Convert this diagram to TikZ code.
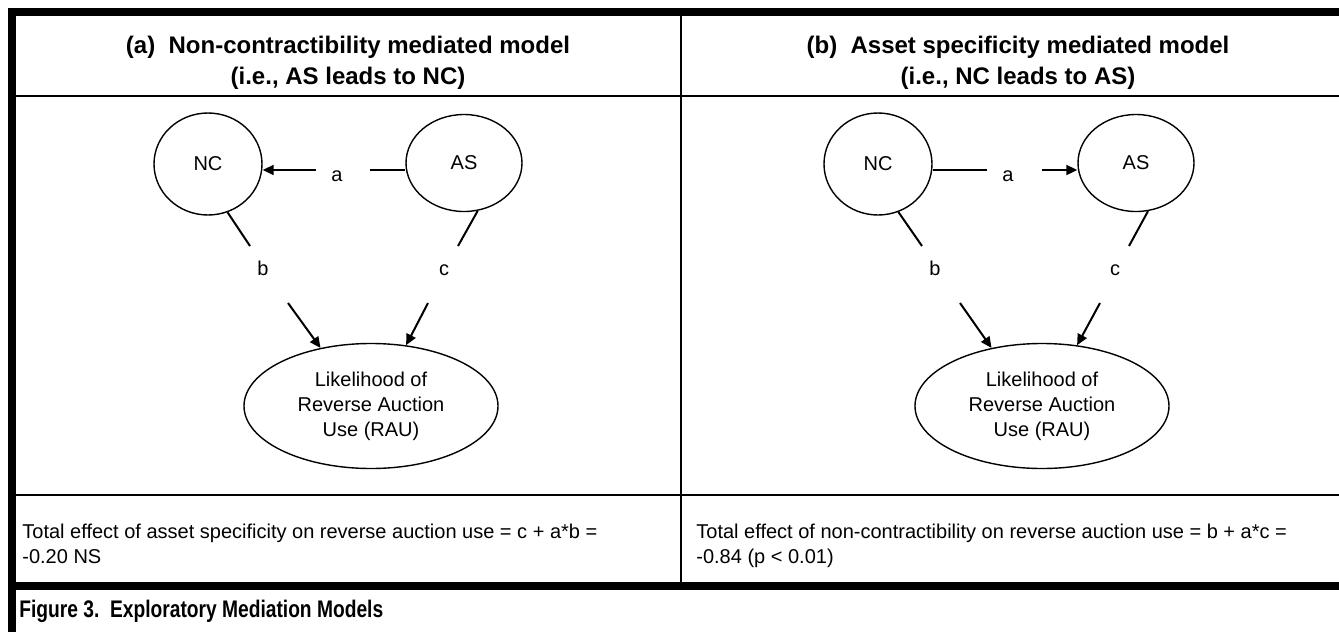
\documentclass[tikz,border=0pt]{standalone}
\usepackage{fontspec}
\setmainfont{Liberation Sans}
\usetikzlibrary{arrows.meta,shapes.geometric}
\tikzset{
  px/.style={x=0.5pt, y=-0.5pt, >={Triangle[length=5.5pt,width=5pt]},
             every node/.style={font=\fontsize{10}{12.5}\selectfont, inner sep=0pt}},
  var/.style={draw, ellipse, line width=0.7pt},
  lnk/.style={line width=1pt},
  plab/.style={anchor=base},
  head/.style={anchor=base, font=\fontsize{12}{14}\selectfont\bfseries},
  note/.style={anchor=base west},
  capt/.style={anchor=base west, font=\fontsize{12}{14}\selectfont\bfseries},
  rule/.style={line width=1pt},
  frame/.style={line width=4pt}
}

\begin{document}
\begin{tikzpicture}[px]
\useasboundingbox (0,0) rectangle (1339,632);
% table rules
\draw[frame] (8,12) -- (1339,12);
\draw[frame] (12,8) -- (12,632);
\draw[frame] (8,586) -- (1339,586);
\draw[rule] (16,96) -- (1339,96);
\draw[rule] (16,495) -- (1339,495);
\draw[rule] (681,16) -- (681,582);
% headings
\node[head] (ha1) at (348,53) {(a)\ \ Non-contractibility mediated model};
\node[head] (ha2) at (348,84) {(i.e., AS leads to NC)};
\node[head] (hb1) at (1018,53) {(b)\ \ Asset specificity mediated model};
\node[head] (hb2) at (1018,84) {(i.e., NC leads to AS)};
% panel (a)
\node[var, minimum width=54pt, minimum height=51pt] (nca) at (208,164) {NC};
\node[var, minimum width=58pt, minimum height=48.5pt] (asa) at (464,163) {AS};
\node[var, minimum width=127pt, minimum height=62.5pt, align=center] (raua) at (371,406)
  {Likelihood of\\Reverse Auction\\Use (RAU)};
\coordinate (a1) at (370,170); \coordinate (a2) at (316,170);
\coordinate (b1) at (250,246); \coordinate (b2) at (288,303);
\coordinate (c1) at (458,246); \coordinate (c2) at (428,303);
\node[plab] (la) at (337,181) {a};
\node[plab] (lb) at (263,275) {b};
\node[plab] (lc) at (444,275) {c};
\draw[lnk] (asa.west |- a1) -- (a1);
\draw[lnk,->] (a2) -- (nca.east |- a2);
\draw[lnk] (nca.-68) -- (b1); \draw[lnk,->] (b2) -- (raua.131);
\draw[lnk] (asa.-74) -- (c1); \draw[lnk,->] (c2) -- (raua.60);
% panel (b)
\node[var, minimum width=54pt, minimum height=51pt] (ncb) at (878,164) {NC};
\node[var, minimum width=58pt, minimum height=48.5pt] (asb) at (1136,163) {AS};
\node[var, minimum width=127pt, minimum height=62.5pt, align=center] (raub) at (1042,406)
  {Likelihood of\\Reverse Auction\\Use (RAU)};
\coordinate (a3) at (987,170); \coordinate (a4) at (1042,170);
\coordinate (b3) at (922,246); \coordinate (b4) at (960,303);
\coordinate (c3) at (1129,246); \coordinate (c4) at (1100,303);
\node[plab] (la2) at (1008,181) {a};
\node[plab] (lb2) at (935,275) {b};
\node[plab] (lc2) at (1115,275) {c};
\draw[lnk] (ncb.east |- a3) -- (a3);
\draw[lnk,->] (a4) -- (asb.west |- a4);
\draw[lnk] (ncb.-67) -- (b3); \draw[lnk,->] (b4) -- (raub.131);
\draw[lnk] (asb.-76) -- (c3); \draw[lnk,->] (c4) -- (raub.60);
% totals
\node[note] (ta1) at (22,538) {Total effect of asset specificity on reverse auction use = c + a*b =};
\node[note] (ta2) at (22,563) {-0.20 NS};
\node[note] (tb1) at (696,538) {Total effect of non-contractibility on reverse auction use = b + a*c =};
\node[note] (tb2) at (696,563) {-0.84 (p < 0.01)};
\node[capt] (cap) at (19,617) {\scalebox{0.8}[1]{Figure 3.\ \ Exploratory Mediation Models}};
\end{tikzpicture}
\end{document}
